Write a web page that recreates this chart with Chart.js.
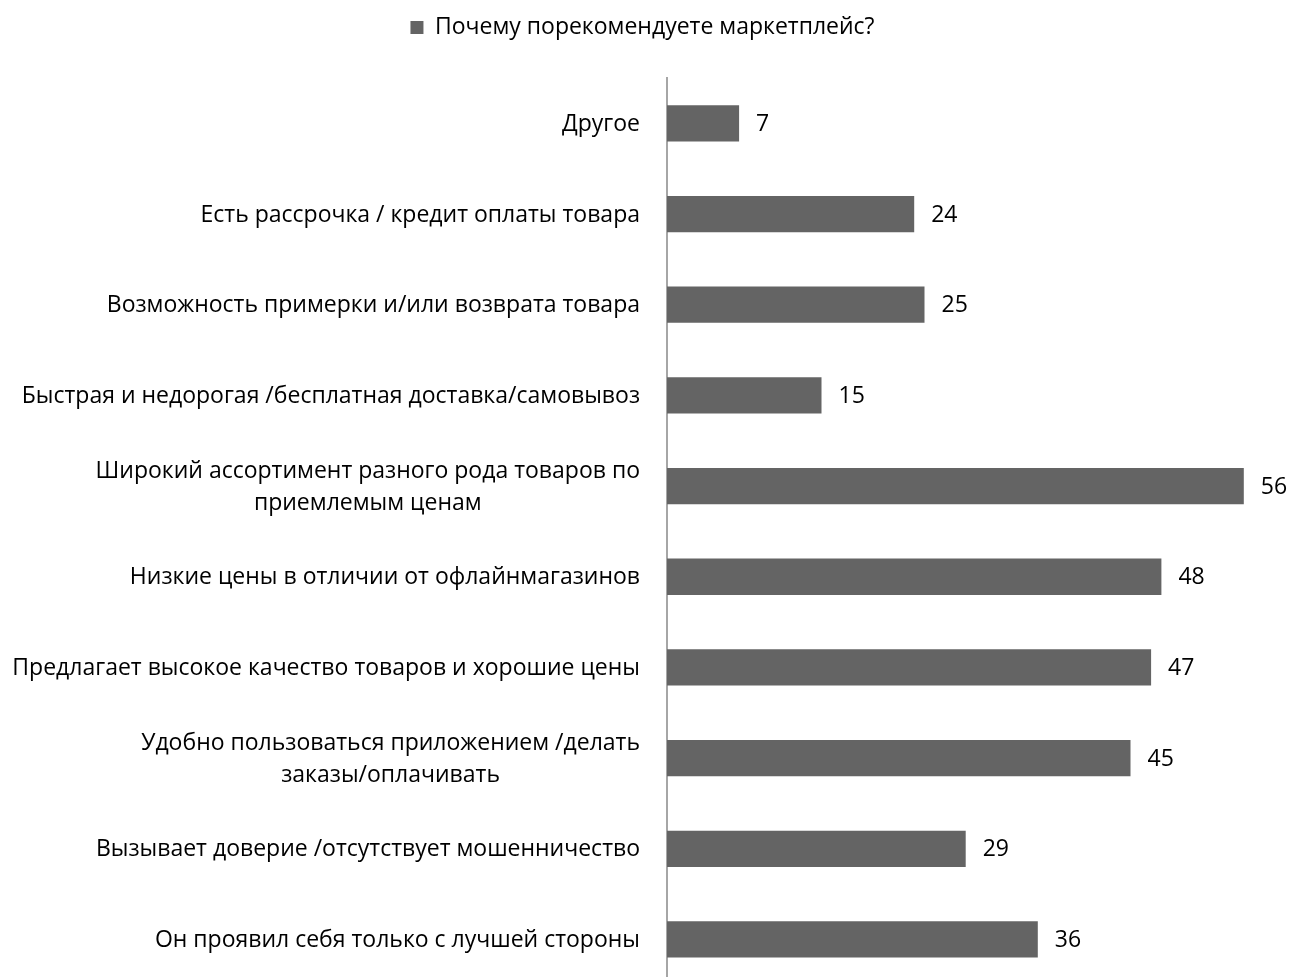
<!DOCTYPE html>
<html>
<head>
<meta charset="utf-8">
<script src="https://cdn.jsdelivr.net/npm/chart.js@4"></script>
<style>
  html, body { margin: 0; padding: 0; background: #fff; overflow: hidden; }
</style>
</head>
<body>
<canvas id="chart_content" width="1291" height="995"></canvas>
<script>
var canvasElement = document.getElementById("chart_content");

// categories, top to bottom
const categories = [
	"Другое",
	"Есть рассрочка / кредит оплаты товара",
	"Возможность примерки и/или возврата товара",
	"Быстрая и недорогая /бесплатная доставка/самовывоз",
	["Широкий ассортимент разного рода товаров по", "приемлемым ценам"],
	"Низкие цены в отличии от офлайнмагазинов",
	"Предлагает высокое качество товаров и хорошие цены",
	["Удобно пользоваться приложением /делать", "заказы/оплачивать"],
	"Вызывает доверие /отсутствует мошенничество",
	"Он проявил себя только с лучшей стороны",
];
const seriesName = "Почему порекомендуете маркетплейс?";
const values = [7, 24, 25, 15, 56, 48, 47, 45, 29, 36];

const fontFamily = "'Open Sans', 'Noto Sans', sans-serif";
const fontSize = 23;

// extra room under the legend
const legendGap = {
	id: "legendGap",
	beforeInit(chart) {
		const fit = chart.legend.fit;
		chart.legend.fit = function() {
			fit.bind(chart.legend)();
			this.height += 29;
		};
	}
};

// category labels: right edge near the axis, wrapped lines centred as a block
const categoryLabels = {
	id: "categoryLabels",
	afterDraw(chart) {
		const ctx = chart.ctx;
		const yScale = chart.scales.y;
		const right = chart.chartArea.left - 27;
		ctx.save();
		ctx.font = fontSize + "px " + fontFamily;
		ctx.fillStyle = "#000";
		ctx.textAlign = "center";
		ctx.textBaseline = "middle";
		categories.forEach(function(lab, i) {
			const lines = Array.isArray(lab) ? lab : [lab];
			const w = Math.max.apply(null, lines.map(function(l) { return ctx.measureText(l).width; }));
			const cx = right - w / 2;
			const y0 = yScale.getPixelForTick(i) - (lines.length - 1) * 16;
			lines.forEach(function(l, j) {
				ctx.fillText(l, cx, y0 + j * 32 + 1);
			});
		});
		ctx.restore();
	}
};

// value labels to the right of every bar
const valueLabels = {
	id: "valueLabels",
	afterDatasetsDraw(chart) {
		const ctx = chart.ctx;
		const meta = chart.getDatasetMeta(0);
		ctx.save();
		ctx.font = fontSize + "px " + fontFamily;
		ctx.fillStyle = "#000";
		ctx.textAlign = "left";
		ctx.textBaseline = "middle";
		meta.data.forEach(function(bar, i) {
			ctx.fillText(String(values[i]), bar.x + 17, bar.y + 1);
		});
		ctx.restore();
	}
};

function drawChart() {
	var config = {
		type: "bar",
		data: {
			labels: categories,
			datasets: [{
				label: seriesName,
				data: values,
				backgroundColor: "#646464",
				borderWidth: 0,
				barPercentage: 0.4,
				categoryPercentage: 1.0
			}]
		},
		options: {
			indexAxis: "y",
			responsive: false,
			animation: false,
			layout: { padding: { top: 5, right: 6, left: 0, bottom: 0 } },
			scales: {
				x: {
					min: 0,
					max: 60,
					display: false,
					grid: { display: false }
				},
				y: {
					grid: { display: false, drawTicks: false },
					border: { display: true, color: "#a6a6a6", width: 2 },
					ticks: {
						callback: function() { return ""; }
					},
					afterFit: function(scale) { scale.width = 667; }
				}
			},
			plugins: {
				tooltip: { enabled: false },
				legend: {
					position: "top",
					labels: {
						color: "#000",
						boxWidth: 13,
						boxHeight: 13,
						padding: 11,
						font: { family: fontFamily, size: fontSize }
					}
				}
			}
		},
		plugins: [legendGap, valueLabels, categoryLabels]
	};
	var content_chart = new Chart(canvasElement, config);
}

window.onload = function() {
	drawChart();
};
</script>
</body>
</html>
